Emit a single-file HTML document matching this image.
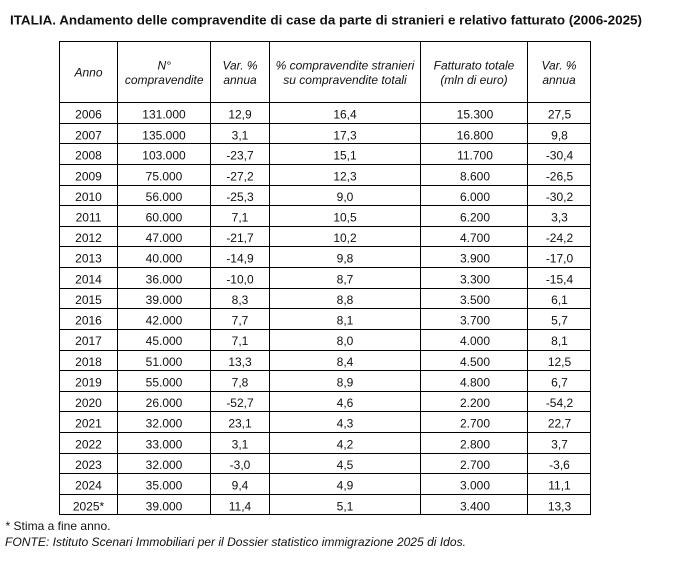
<!DOCTYPE html>
<html><head><meta charset="utf-8"><style>
html,body{margin:0;padding:0;background:#fff;}
svg{display:block;}
text{font-family:"Liberation Sans",Arial,sans-serif;fill:#111;}
.t{font-weight:bold;font-size:12.5px;}
.h{font-style:italic;font-size:12px;}
.d{font-size:12px;}
.f{font-size:12px;}
</style></head><body>
<svg width="674" height="580" viewBox="0 0 674 580" xmlns="http://www.w3.org/2000/svg">
<rect width="674" height="580" fill="#fff"/>
<text class="t" x="10" y="24.5" textLength="632" lengthAdjust="spacingAndGlyphs">ITALIA. Andamento delle compravendite di case da parte di stranieri e relativo fatturato (2006-2025)</text>
<g stroke="#000" stroke-width="1" fill="none">
<rect x="59.5" y="41.5" width="531" height="473"/>
<line x1="117.5" y1="41.5" x2="117.5" y2="514.5"/>
<line x1="210.5" y1="41.5" x2="210.5" y2="514.5"/>
<line x1="269.5" y1="41.5" x2="269.5" y2="514.5"/>
<line x1="420.5" y1="41.5" x2="420.5" y2="514.5"/>
<line x1="527.5" y1="41.5" x2="527.5" y2="514.5"/>
<line x1="59.5" y1="102.5" x2="590.5" y2="102.5"/>
<line x1="59.5" y1="123.5" x2="590.5" y2="123.5"/>
<line x1="59.5" y1="143.5" x2="590.5" y2="143.5"/>
<line x1="59.5" y1="164.5" x2="590.5" y2="164.5"/>
<line x1="59.5" y1="185.5" x2="590.5" y2="185.5"/>
<line x1="59.5" y1="205.5" x2="590.5" y2="205.5"/>
<line x1="59.5" y1="226.5" x2="590.5" y2="226.5"/>
<line x1="59.5" y1="246.5" x2="590.5" y2="246.5"/>
<line x1="59.5" y1="267.5" x2="590.5" y2="267.5"/>
<line x1="59.5" y1="288.5" x2="590.5" y2="288.5"/>
<line x1="59.5" y1="308.5" x2="590.5" y2="308.5"/>
<line x1="59.5" y1="329.5" x2="590.5" y2="329.5"/>
<line x1="59.5" y1="350.5" x2="590.5" y2="350.5"/>
<line x1="59.5" y1="370.5" x2="590.5" y2="370.5"/>
<line x1="59.5" y1="391.5" x2="590.5" y2="391.5"/>
<line x1="59.5" y1="411.5" x2="590.5" y2="411.5"/>
<line x1="59.5" y1="432.5" x2="590.5" y2="432.5"/>
<line x1="59.5" y1="453.5" x2="590.5" y2="453.5"/>
<line x1="59.5" y1="473.5" x2="590.5" y2="473.5"/>
<line x1="59.5" y1="494.5" x2="590.5" y2="494.5"/>
</g>
<g class="h" text-anchor="middle">
<text class="h" x="88.5" y="76.5">Anno</text>
<text class="h" x="164.2" y="69.5">N°</text>
<text class="h" x="164.2" y="84">compravendite</text>
<text class="h" x="240" y="69.5">Var. %</text>
<text class="h" x="240" y="84">annua</text>
<text class="h" x="345" y="69.5">% compravendite stranieri</text>
<text class="h" x="345" y="84">su compravendite totali</text>
<text class="h" x="474" y="69.5">Fatturato totale</text>
<text class="h" x="474" y="84">(mln di euro)</text>
<text class="h" x="559" y="69.5">Var. %</text>
<text class="h" x="559" y="84">annua</text>
</g>
<g class="d" text-anchor="middle">
<!-- 2006 -->
<text class="d" x="88.5" y="118.5">2006</text><text class="d" x="164" y="118.5">131.000</text><text class="d" x="240" y="118.5">12,9</text><text class="d" x="345" y="118.5">16,4</text><text class="d" x="475" y="118.5">15.300</text><text class="d" x="559.5" y="118.5">27,5</text>
<text class="d" x="88.5" y="139.5">2007</text><text class="d" x="164" y="139.5">135.000</text><text class="d" x="240" y="139.5">3,1</text><text class="d" x="345" y="139.5">17,3</text><text class="d" x="475" y="139.5">16.800</text><text class="d" x="559.5" y="139.5">9,8</text>
<text class="d" x="88.5" y="159.5">2008</text><text class="d" x="164" y="159.5">103.000</text><text class="d" x="240" y="159.5">-23,7</text><text class="d" x="345" y="159.5">15,1</text><text class="d" x="475" y="159.5">11.700</text><text class="d" x="559.5" y="159.5">-30,4</text>
<text class="d" x="88.5" y="180.5">2009</text><text class="d" x="164" y="180.5">75.000</text><text class="d" x="240" y="180.5">-27,2</text><text class="d" x="345" y="180.5">12,3</text><text class="d" x="475" y="180.5">8.600</text><text class="d" x="559.5" y="180.5">-26,5</text>
<text class="d" x="88.5" y="201">2010</text><text class="d" x="164" y="201">56.000</text><text class="d" x="240" y="201">-25,3</text><text class="d" x="345" y="201">9,0</text><text class="d" x="475" y="201">6.000</text><text class="d" x="559.5" y="201">-30,2</text>
<text class="d" x="88.5" y="221.5">2011</text><text class="d" x="164" y="221.5">60.000</text><text class="d" x="240" y="221.5">7,1</text><text class="d" x="345" y="221.5">10,5</text><text class="d" x="475" y="221.5">6.200</text><text class="d" x="559.5" y="221.5">3,3</text>
<text class="d" x="88.5" y="242">2012</text><text class="d" x="164" y="242">47.000</text><text class="d" x="240" y="242">-21,7</text><text class="d" x="345" y="242">10,2</text><text class="d" x="475" y="242">4.700</text><text class="d" x="559.5" y="242">-24,2</text>
<text class="d" x="88.5" y="262.5">2013</text><text class="d" x="164" y="262.5">40.000</text><text class="d" x="240" y="262.5">-14,9</text><text class="d" x="345" y="262.5">9,8</text><text class="d" x="475" y="262.5">3.900</text><text class="d" x="559.5" y="262.5">-17,0</text>
<text class="d" x="88.5" y="283.5">2014</text><text class="d" x="164" y="283.5">36.000</text><text class="d" x="240" y="283.5">-10,0</text><text class="d" x="345" y="283.5">8,7</text><text class="d" x="475" y="283.5">3.300</text><text class="d" x="559.5" y="283.5">-15,4</text>
<text class="d" x="88.5" y="304">2015</text><text class="d" x="164" y="304">39.000</text><text class="d" x="240" y="304">8,3</text><text class="d" x="345" y="304">8,8</text><text class="d" x="475" y="304">3.500</text><text class="d" x="559.5" y="304">6,1</text>
<text class="d" x="88.5" y="324.5">2016</text><text class="d" x="164" y="324.5">42.000</text><text class="d" x="240" y="324.5">7,7</text><text class="d" x="345" y="324.5">8,1</text><text class="d" x="475" y="324.5">3.700</text><text class="d" x="559.5" y="324.5">5,7</text>
<text class="d" x="88.5" y="345">2017</text><text class="d" x="164" y="345">45.000</text><text class="d" x="240" y="345">7,1</text><text class="d" x="345" y="345">8,0</text><text class="d" x="475" y="345">4.000</text><text class="d" x="559.5" y="345">8,1</text>
<text class="d" x="88.5" y="366">2018</text><text class="d" x="164" y="366">51.000</text><text class="d" x="240" y="366">13,3</text><text class="d" x="345" y="366">8,4</text><text class="d" x="475" y="366">4.500</text><text class="d" x="559.5" y="366">12,5</text>
<text class="d" x="88.5" y="386.5">2019</text><text class="d" x="164" y="386.5">55.000</text><text class="d" x="240" y="386.5">7,8</text><text class="d" x="345" y="386.5">8,9</text><text class="d" x="475" y="386.5">4.800</text><text class="d" x="559.5" y="386.5">6,7</text>
<text class="d" x="88.5" y="407">2020</text><text class="d" x="164" y="407">26.000</text><text class="d" x="240" y="407">-52,7</text><text class="d" x="345" y="407">4,6</text><text class="d" x="475" y="407">2.200</text><text class="d" x="559.5" y="407">-54,2</text>
<text class="d" x="88.5" y="427.5">2021</text><text class="d" x="164" y="427.5">32.000</text><text class="d" x="240" y="427.5">23,1</text><text class="d" x="345" y="427.5">4,3</text><text class="d" x="475" y="427.5">2.700</text><text class="d" x="559.5" y="427.5">22,7</text>
<text class="d" x="88.5" y="448.5">2022</text><text class="d" x="164" y="448.5">33.000</text><text class="d" x="240" y="448.5">3,1</text><text class="d" x="345" y="448.5">4,2</text><text class="d" x="475" y="448.5">2.800</text><text class="d" x="559.5" y="448.5">3,7</text>
<text class="d" x="88.5" y="469">2023</text><text class="d" x="164" y="469">32.000</text><text class="d" x="240" y="469">-3,0</text><text class="d" x="345" y="469">4,5</text><text class="d" x="475" y="469">2.700</text><text class="d" x="559.5" y="469">-3,6</text>
<text class="d" x="88.5" y="489.5">2024</text><text class="d" x="164" y="489.5">35.000</text><text class="d" x="240" y="489.5">9,4</text><text class="d" x="345" y="489.5">4,9</text><text class="d" x="475" y="489.5">3.000</text><text class="d" x="559.5" y="489.5">11,1</text>
<text class="d" x="88.5" y="510.5">2025*</text><text class="d" x="164" y="510.5">39.000</text><text class="d" x="240" y="510.5">11,4</text><text class="d" x="345" y="510.5">5,1</text><text class="d" x="475" y="510.5">3.400</text><text class="d" x="559.5" y="510.5">13,3</text>
</g>
<text class="f" x="5.5" y="530" textLength="105" lengthAdjust="spacingAndGlyphs">* Stima a fine anno.</text>
<text class="f" x="5" y="546" font-style="italic" textLength="461" lengthAdjust="spacingAndGlyphs">FONTE: Istituto Scenari Immobiliari per il Dossier statistico immigrazione 2025 di Idos.</text>
</svg>
</body></html>
